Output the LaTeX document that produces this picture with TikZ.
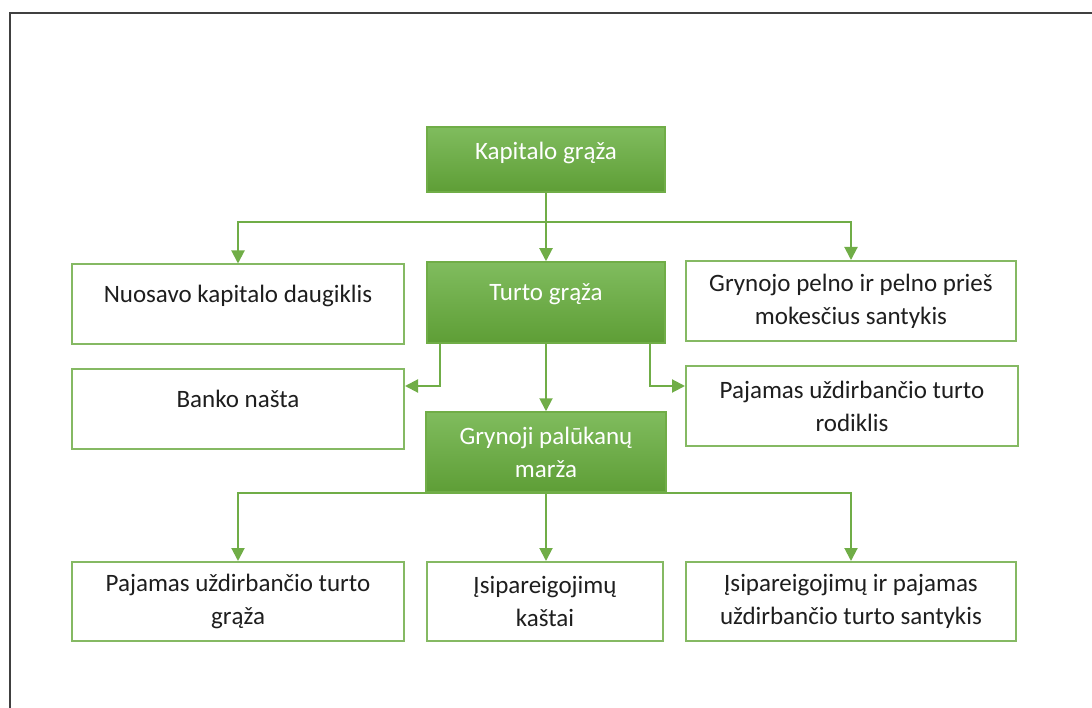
\documentclass[tikz,border=0pt]{standalone}
\usepackage{fontspec}
\setmainfont{Carlito}
\usepackage{tikz}
\usetikzlibrary{arrows.meta, positioning}
\usepackage{xcolor}

\definecolor{linkGreen}{RGB}{112,173,71}
\definecolor{topGreen}{RGB}{128,188,94}
\definecolor{botGreen}{RGB}{94,158,54}
\definecolor{textGray}{RGB}{30,30,30}
\definecolor{frameGray}{RGB}{64,64,64}

\begin{document}
\begin{tikzpicture}[
    x=1pt, y=-1pt,
    mainBox/.style={rectangle, draw=linkGreen, line width=1.5pt, top color=topGreen, bottom color=botGreen, text=white, align=center, font=\fontsize{25}{33}\selectfont, minimum width=238pt, minimum height=81pt, inner sep=0pt},
    subBox/.style={rectangle, draw=linkGreen!85, line width=2pt, fill=white, text=textGray, align=center, font=\fontsize{25}{33}\selectfont, minimum width=332pt, minimum height=80pt, inner sep=0pt},
    link/.style={draw=linkGreen, line width=2pt, -{Triangle[length=13pt, width=13pt]}}
]
    \useasboundingbox (0,0) rectangle (1092,708);

    % Outer frame
    \draw[frameGray, line width=2pt] (10,708) |- (1092,13);

    % Main chain
    \node[mainBox, minimum height=65pt] (kapitalo) at (546,159.5) {Kapitalo grąža\\[-16pt]\mbox{}};
    \node[mainBox] (turto) at (546,302.5) {Turto grąža\\[-12pt]\mbox{}};
    \node[mainBox, minimum width=240pt, minimum height=80pt] (marza) at (546,452) {Grynoji palūkanų\\marža};

    % Second level
    \node[subBox] (nuosavo) at (238,304.5) {Nuosavo kapitalo daugiklis\\[-12pt]\mbox{}};
    \node[subBox, minimum width=330pt] (pelno) at (851,301) {Grynojo pelno ir pelno prieš\\mokesčius santykis};

    % Third level
    \node[subBox] (nasta) at (238,409) {Banko našta\\[-12pt]\mbox{}};
    \node[subBox] (rodiklis) at (852,406) {Pajamas uždirbančio turto\\rodiklis};

    % Bottom level
    \node[subBox, minimum height=79pt] (turtoGraza) at (238,601.5) {Pajamas uždirbančio turto\\grąža};
    \node[subBox, minimum width=236pt, minimum height=79pt] (kastai) at (545,601.5) {Įsipareigojimų\\kaštai};
    \node[subBox, minimum width=330pt, minimum height=79pt] (santykis) at (851,601.5) {Įsipareigojimų ir pajamas\\uždirbančio turto santykis};

    % Connectors
    \coordinate (split) at (546,222);
    \draw[link] (kapitalo.south) -- (turto.north);
    \draw[link] (split) -| (nuosavo.north);
    \draw[link] (split) -| (pelno.north);

    \draw[link] ([xshift=-106pt]turto.south) |- ([yshift=23pt]nasta.east);
    \draw[link] ([xshift=104pt]turto.south) |- ([yshift=20pt]rodiklis.west);
    \draw[link] (turto.south) -- (marza.north);

    \draw[link] (marza.south) -| (turtoGraza.north);
    \draw[link] (marza.south) -- (marza.south |- kastai.north);
    \draw[link] (marza.south) -| (santykis.north);
\end{tikzpicture}
\end{document}
